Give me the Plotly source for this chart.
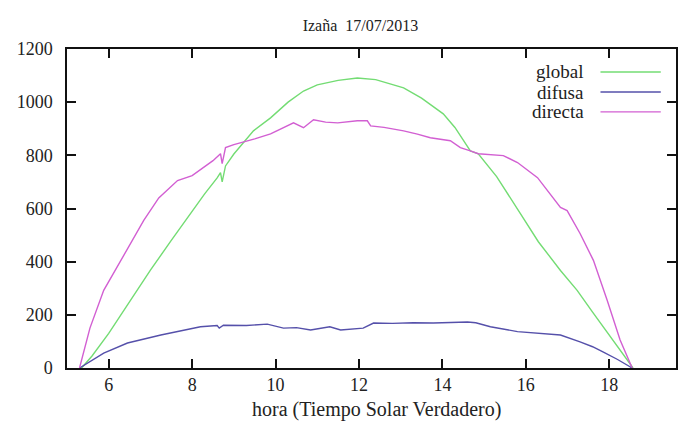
import plotly.graph_objects as go

# Irradiancia (W/m2), Izaña 17/07/2013
hora_global = [5.35, 5.6, 6.0, 6.5, 7.0, 7.5, 8.0, 8.3, 8.6, 8.68, 8.72, 8.8, 9.0, 9.47,
               9.88, 10.3, 10.67, 11.0, 11.5, 11.96, 12.4, 12.8, 13.07, 13.5, 14.02,
               14.3, 14.67, 14.86, 15.3, 15.87, 16.3, 16.83, 17.23, 17.6, 17.86, 18.2, 18.57]
global_vals = [0, 45, 130, 250, 368, 480, 590, 655, 715, 735, 700, 760, 805, 892,
               941, 1000, 1042, 1065, 1082, 1091, 1085, 1068, 1054, 1015, 956,
               905, 817, 806, 720, 581, 475, 367, 292, 210, 154, 78, 0]

hora_difusa = [5.3, 5.6, 5.88, 6.45, 7.25, 8.2, 8.6, 8.65, 8.75, 9.3, 9.8, 10.19, 10.5,
               10.84, 11.1, 11.3, 11.56, 12.1, 12.35, 12.8, 13.3, 13.78, 14.2, 14.6,
               14.8, 15.15, 15.8, 16.35, 16.83, 17.3, 17.6, 17.86, 18.2, 18.55]
difusa_vals = [0, 30, 56, 94, 124, 155, 160, 150, 161, 160, 165, 150, 152,
               143, 150, 155, 143, 150, 169, 168, 170, 169, 171, 173,
               170, 155, 137, 131, 124, 98, 80, 60, 32, 0]

hora_directa = [5.3, 5.55, 5.88, 6.29, 6.84, 7.2, 7.65, 8.0, 8.5, 8.68, 8.72, 8.8, 9.0,
                9.5, 9.88, 10.43, 10.67, 10.91, 11.2, 11.49, 11.96, 12.2, 12.28, 12.6,
                13.07, 13.4, 13.71, 14.19, 14.43, 14.67, 14.86, 15.46, 15.8, 16.28,
                16.83, 16.99, 17.3, 17.62, 17.78, 17.95, 18.26, 18.55]
directa_vals = [0, 150, 292, 405, 555, 640, 705, 724, 780, 806, 769, 829, 840,
                862, 881, 922, 904, 934, 925, 922, 930, 930, 911, 905,
                892, 880, 866, 855, 829, 817, 806, 799, 773, 716,
                604, 592, 506, 405, 333, 255, 105, 0]

series = [
    ('global', hora_global, global_vals, 'rgb(115,220,115)'),
    ('difusa', hora_difusa, difusa_vals, 'rgb(85,80,170)'),
    ('directa', hora_directa, directa_vals, 'rgb(210,95,210)'),
]

serif = 'Liberation Serif'

fig = go.Figure()
for nombre, x, y, color in series:
    fig.add_trace(go.Scatter(x=x, y=y, mode='lines', name=nombre,
                             line=dict(color=color, width=1.4), showlegend=False))

# Leyenda al estilo gnuplot: texto a la izquierda, linea a la derecha
leg_y = [0.928, 0.865, 0.803]
for (nombre, x, y, color), yy in zip(series, leg_y):
    fig.add_annotation(x=0.853, y=yy, xref='paper', yref='paper', text=nombre,
                       showarrow=False, xanchor='right', yanchor='middle',
                       font=dict(family=serif, size=19, color='#222'))
    fig.add_shape(type='line', xref='paper', yref='paper', x0=0.876, x1=0.975,
                  y0=yy, y1=yy, line=dict(color=color, width=1.4))

# titulo del eje x
fig.add_annotation(x=0.508, y=-0.13, xref='paper', yref='paper',
                   text='hora (Tiempo Solar Verdadero)', showarrow=False,
                   xanchor='center', yanchor='middle',
                   font=dict(family=serif, size=20, color='#222'))

eje = dict(showline=True, linecolor='#111', linewidth=1.5, mirror='ticks',
           ticks='inside', ticklen=9, tickwidth=1.5, tickcolor='#111',
           showgrid=False, zeroline=False,
           tickfont=dict(family=serif, size=18, color='#222'))

fig.update_xaxes(range=[5, 19.6], tick0=0, dtick=2, **eje)
fig.update_yaxes(range=[0, 1200], dtick=200, ticklabelstandoff=9, **eje)

fig.update_layout(
    width=680, height=430,
    margin=dict(l=67, r=2, t=49, b=62),
    paper_bgcolor='white', plot_bgcolor='white',
    title=dict(text='Izaña  17/07/2013', x=0.53, xanchor='center', y=0.955,
               font=dict(family=serif, size=16, color='#222')),
)

fig.write_html('out.html', config={'displayModeBar': False},
               post_script="document.body.style.margin='0';"
                           "document.body.style.overflow='hidden';")
